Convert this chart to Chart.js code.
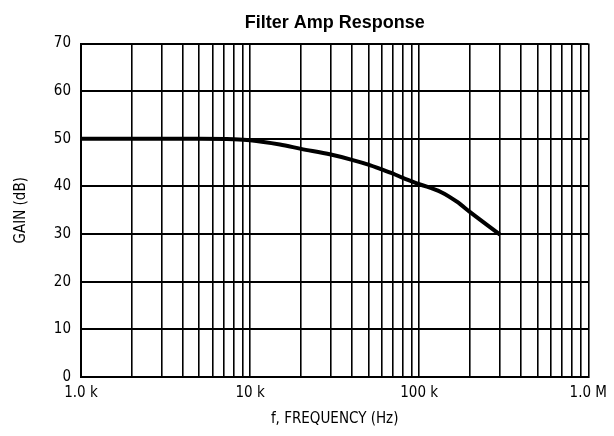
<!DOCTYPE html>
<html lang="en">
<head>
<meta charset="UTF-8">
<title>Filter Amp Response</title>
<script src="https://cdn.jsdelivr.net/npm/chart.js"></script>
<style>
    html, body { margin: 0; padding: 0; background: #fff; }
    #wrap { width: 614px; height: 436px; }
</style>
</head>
<body>
<div id="wrap"><canvas id="grafico" width="614" height="436"></canvas></div>
<script>
    // valores (frequencia em Hz, ganho em dB)
    const frequencias = [1000, 2000, 5000, 8000, 10000, 15000, 20000, 30000, 40000, 50000, 60000, 70000, 80000, 100000, 135000, 167000, 200000, 300000];
    const ganhos = [50, 50, 50, 49.9, 49.7, 48.8, 47.9, 46.7, 45.6, 44.6, 43.6, 42.7, 41.8, 40.5, 38.8, 36.8, 34.6, 29.9];

    const yTicks = [0, 10, 20, 30, 40, 50, 60, 70];
    const xGrid = [];
    for (let d = 1000; d < 1e6; d *= 10) {
        for (let m = 1; m < 10; m++) xGrid.push(m * d);
    }
    xGrid.push(1e6);
    const xLabels = { 1000: '1.0 k', 10000: '10 k', 100000: '100 k', 1000000: '1.0 M' };

    const fonteEixo = { family: "'DejaVu Sans Condensed', 'Liberation Sans Narrow', 'Liberation Sans', sans-serif", size: 15 };

    new Chart(document.getElementById('grafico'), {
        type: 'line',
        data: {
            datasets: [{
                data: frequencias.map((f, i) => ({ x: f, y: ganhos[i] })),
                borderColor: '#000',
                borderWidth: 4,
                pointRadius: 0,
                cubicInterpolationMode: 'monotone',
                fill: false
            }]
        },
        options: {
            responsive: false,
            animation: false,
            layout: { padding: { top: 2, right: 20, left: 0, bottom: 0 } },
            plugins: {
                legend: { display: false },
                tooltip: { enabled: false },
                title: {
                    display: true,
                    text: 'Filter Amp Response',
                    color: '#000',
                    fullSize: false,
                    font: { family: "'Liberation Sans', Arial, sans-serif", size: 18, weight: 'bold' },
                    padding: { top: 10, bottom: 10 }
                }
            },
            scales: {
                x: {
                    type: 'logarithmic',
                    min: 1000,
                    max: 1e6,
                    afterBuildTicks: s => { s.ticks = xGrid.map(v => ({ value: v })); },
                    afterFit: s => { s.height = 59; },
                    grid: { color: '#000', lineWidth: 1.6, drawTicks: false },
                    border: { color: '#000', width: 2 },
                    ticks: {
                        autoSkip: false,
                        maxRotation: 0,
                        padding: 7,
                        color: '#000',
                        font: fonteEixo,
                        callback: v => xLabels[v] || ''
                    },
                    title: {
                        display: true,
                        text: 'f, FREQUENCY (Hz)',
                        color: '#000',
                        font: fonteEixo,
                        padding: { top: 4, bottom: 8 }
                    }
                },
                y: {
                    min: 0,
                    max: 70,
                    afterBuildTicks: s => { s.ticks = yTicks.map(v => ({ value: v })); },
                    afterFit: s => { s.width = 81; },
                    grid: { color: '#000', lineWidth: 2, drawTicks: false },
                    border: { color: '#000', width: 2 },
                    ticks: { padding: 10, color: '#000', font: fonteEixo },
                    title: {
                        display: true,
                        text: 'GAIN (dB)',
                        color: '#000',
                        font: fonteEixo,
                        padding: { top: 12, bottom: 18 }
                    }
                }
            }
        }
    });
</script>
</body>
</html>
